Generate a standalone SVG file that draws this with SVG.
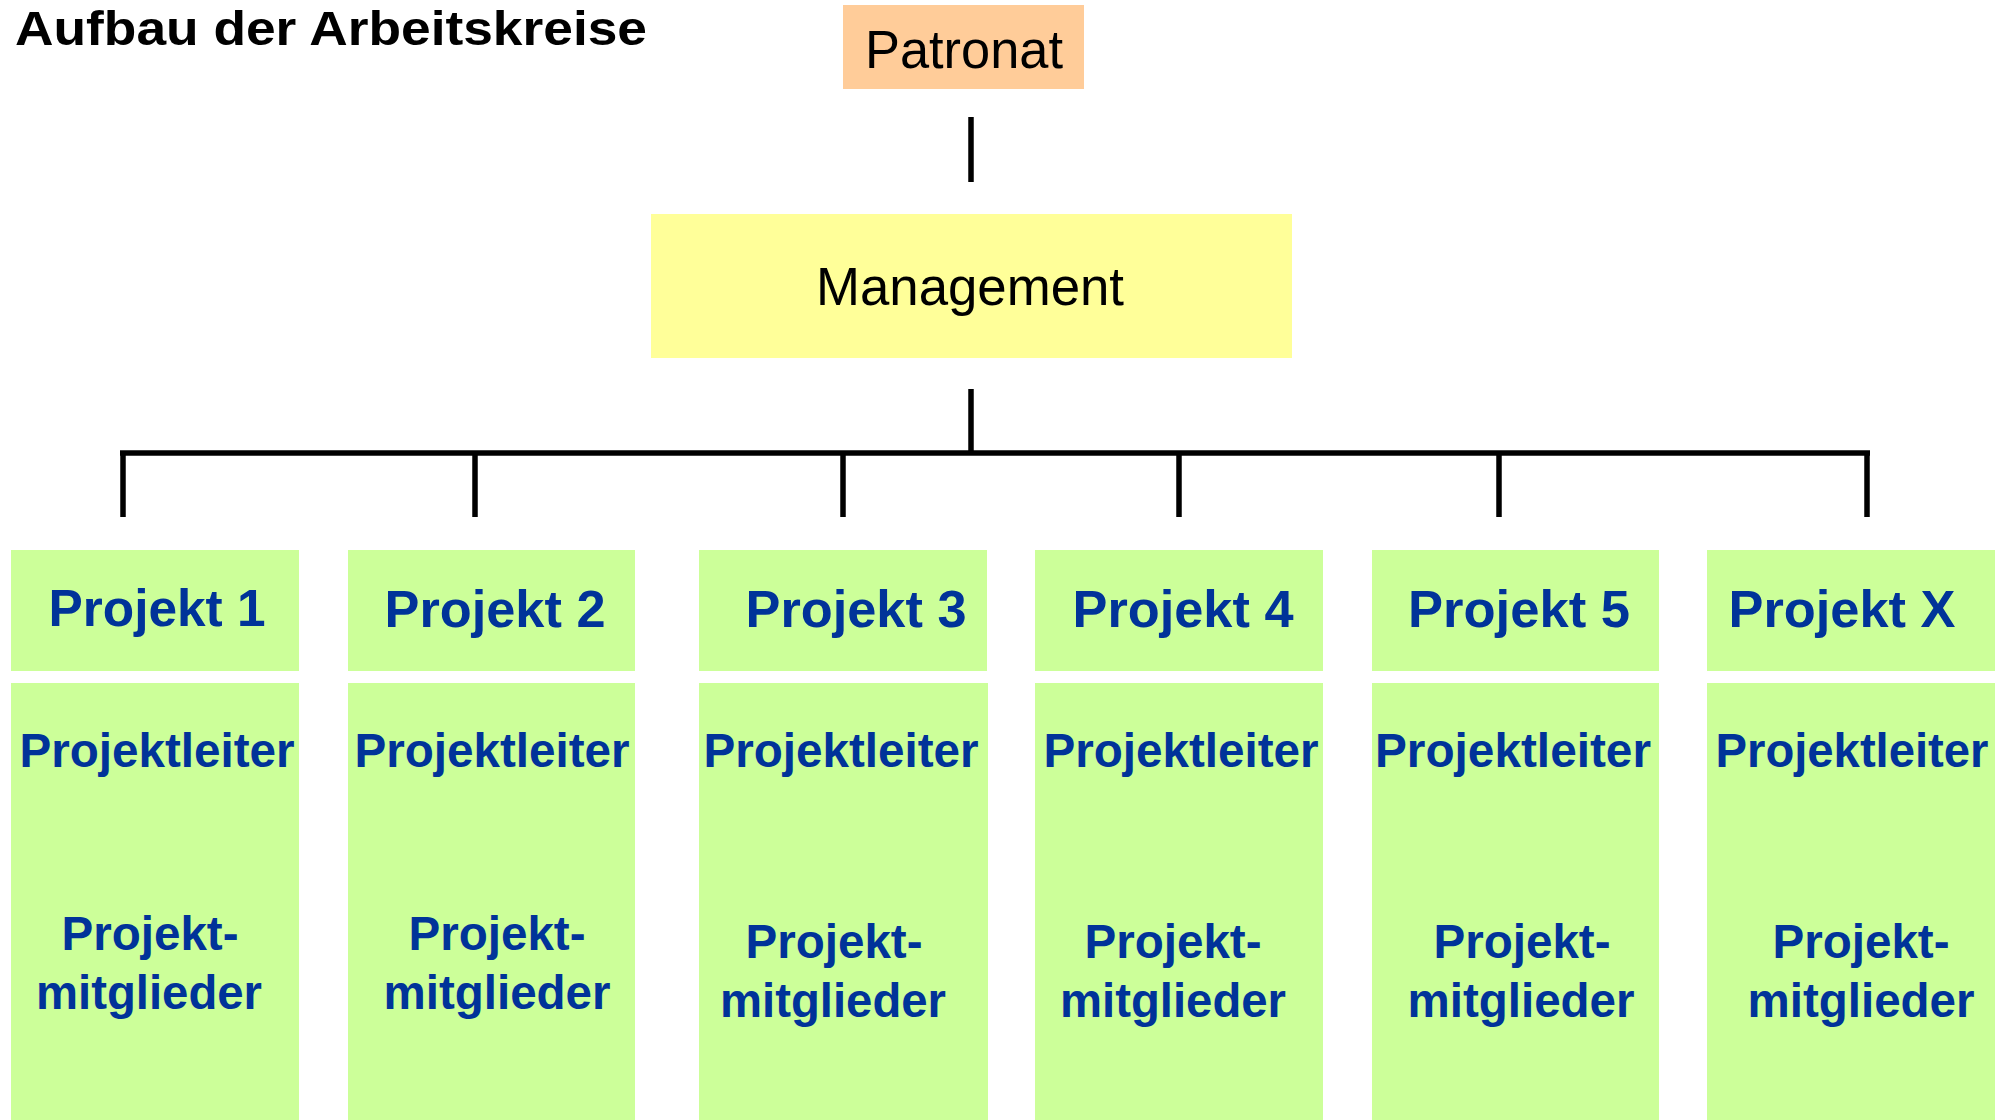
<svg xmlns="http://www.w3.org/2000/svg" width="1997" height="1120" viewBox="0 0 1997 1120">
<style>
.title{font-family:"Liberation Sans",Arial,sans-serif;font-weight:bold;font-size:49px;fill:#000}
.top{font-family:"Liberation Sans",Arial,sans-serif;font-size:54px;fill:#000;text-anchor:middle}
.hdr{font-family:"Liberation Sans",Arial,sans-serif;font-weight:bold;font-size:52px;fill:#003399;text-anchor:middle}
.body{font-family:"Liberation Sans",Arial,sans-serif;font-weight:bold;font-size:47.5px;fill:#003399;text-anchor:middle}
.g{fill:#CCFF99}
.conn{stroke:#000;stroke-width:5.5;fill:none}
</style>
<rect width="1997" height="1120" fill="#fff"/>
<text class="title" x="15" y="45" textLength="632" lengthAdjust="spacingAndGlyphs">Aufbau der Arbeitskreise</text>
<g id="connectors">
<line class="conn" x1="971" y1="117" x2="971" y2="182"/>
<line class="conn" x1="971" y1="389" x2="971" y2="453"/>
<line class="conn" x1="120" y1="453" x2="1870" y2="453"/>
<line class="conn" x1="123" y1="453" x2="123" y2="517"/>
<line class="conn" x1="475" y1="453" x2="475" y2="517"/>
<line class="conn" x1="843" y1="453" x2="843" y2="517"/>
<line class="conn" x1="1179" y1="453" x2="1179" y2="517"/>
<line class="conn" x1="1499" y1="453" x2="1499" y2="517"/>
<line class="conn" x1="1867" y1="453" x2="1867" y2="517"/>
</g>
<g id="patronat">
<rect x="843" y="5" width="241" height="84" fill="#FFCC99"/>
<text class="top" x="964" y="68" textLength="198" lengthAdjust="spacingAndGlyphs">Patronat</text>
</g>
<g id="management">
<rect x="651" y="214" width="641" height="144" fill="#FFFF99"/>
<text class="top" x="970" y="305" textLength="308" lengthAdjust="spacingAndGlyphs">Management</text>
</g>
<g id="projekt1">
<rect class="g" x="11" y="550" width="288" height="121"/>
<rect class="g" x="11" y="683" width="288" height="437"/>
<text class="hdr" x="157" y="626" textLength="217" lengthAdjust="spacingAndGlyphs">Projekt 1</text>
<text class="body" x="157" y="767" textLength="275" lengthAdjust="spacingAndGlyphs">Projektleiter</text>
<text class="body" x="150" y="950" textLength="177" lengthAdjust="spacingAndGlyphs">Projekt-</text>
<text class="body" x="149" y="1009" textLength="226" lengthAdjust="spacingAndGlyphs">mitglieder</text>
</g>
<g id="projekt2">
<rect class="g" x="348" y="550" width="287" height="121"/>
<rect class="g" x="348" y="683" width="287" height="437"/>
<text class="hdr" x="495" y="627" textLength="221" lengthAdjust="spacingAndGlyphs">Projekt 2</text>
<text class="body" x="492" y="767" textLength="275" lengthAdjust="spacingAndGlyphs">Projektleiter</text>
<text class="body" x="497" y="950" textLength="177" lengthAdjust="spacingAndGlyphs">Projekt-</text>
<text class="body" x="497" y="1009" textLength="227" lengthAdjust="spacingAndGlyphs">mitglieder</text>
</g>
<g id="projekt3">
<rect class="g" x="699" y="550" width="288" height="121"/>
<rect class="g" x="699" y="683" width="289" height="437"/>
<text class="hdr" x="856" y="627" textLength="221" lengthAdjust="spacingAndGlyphs">Projekt 3</text>
<text class="body" x="841" y="767" textLength="275" lengthAdjust="spacingAndGlyphs">Projektleiter</text>
<text class="body" x="834" y="958" textLength="177" lengthAdjust="spacingAndGlyphs">Projekt-</text>
<text class="body" x="833" y="1017" textLength="226" lengthAdjust="spacingAndGlyphs">mitglieder</text>
</g>
<g id="projekt4">
<rect class="g" x="1035" y="550" width="288" height="121"/>
<rect class="g" x="1035" y="683" width="288" height="437"/>
<text class="hdr" x="1183" y="627" textLength="221" lengthAdjust="spacingAndGlyphs">Projekt 4</text>
<text class="body" x="1181" y="767" textLength="275" lengthAdjust="spacingAndGlyphs">Projektleiter</text>
<text class="body" x="1173" y="958" textLength="177" lengthAdjust="spacingAndGlyphs">Projekt-</text>
<text class="body" x="1173" y="1017" textLength="226" lengthAdjust="spacingAndGlyphs">mitglieder</text>
</g>
<g id="projekt5">
<rect class="g" x="1372" y="550" width="287" height="121"/>
<rect class="g" x="1372" y="683" width="287" height="437"/>
<text class="hdr" x="1519" y="627" textLength="222" lengthAdjust="spacingAndGlyphs">Projekt 5</text>
<text class="body" x="1513" y="767" textLength="276" lengthAdjust="spacingAndGlyphs">Projektleiter</text>
<text class="body" x="1522" y="958" textLength="177" lengthAdjust="spacingAndGlyphs">Projekt-</text>
<text class="body" x="1521" y="1017" textLength="227" lengthAdjust="spacingAndGlyphs">mitglieder</text>
</g>
<g id="projektX">
<rect class="g" x="1707" y="550" width="288" height="121"/>
<rect class="g" x="1707" y="683" width="288" height="437"/>
<text class="hdr" x="1842" y="627" textLength="227" lengthAdjust="spacingAndGlyphs">Projekt X</text>
<text class="body" x="1852" y="767" textLength="273" lengthAdjust="spacingAndGlyphs">Projektleiter</text>
<text class="body" x="1861" y="958" textLength="177" lengthAdjust="spacingAndGlyphs">Projekt-</text>
<text class="body" x="1861" y="1017" textLength="227" lengthAdjust="spacingAndGlyphs">mitglieder</text>
</g>
</svg>
